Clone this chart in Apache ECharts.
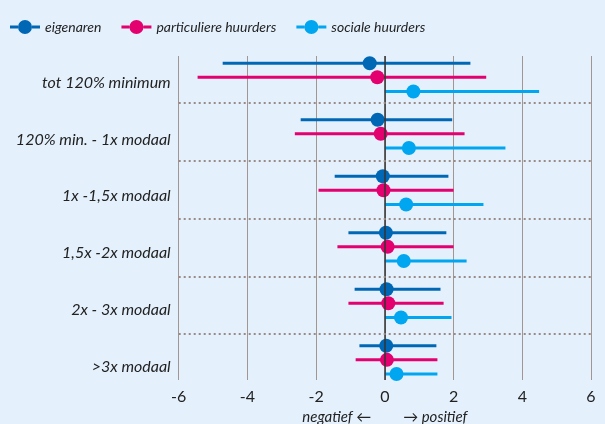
<!DOCTYPE html>
<html>
<head>
<meta charset="utf-8">
<script src="https://cdn.jsdelivr.net/npm/echarts@6/dist/echarts.min.js"></script>
<style>
  html, body { margin: 0; padding: 0; background: #e4f1fd; }
  #chart { width: 605px; height: 424px; }
</style>
</head>
<body>
<div id="chart"></div>
<script>
// categorieen (van boven naar beneden)
const groups = ['tot 120% minimum', '120% min. - 1x modaal', '1x -1,5x modaal', '1,5x -2x modaal', '2x - 3x modaal', '>3x modaal']
const seriesNames = ['eigenaren', 'particuliere huurders', 'sociale huurders']
// [laag, punt, hoog] per groep
const eigenaren = [[-4.72, -0.44, 2.49], [-2.45, -0.21, 1.96], [-1.46, -0.06, 1.85], [-1.06, 0.03, 1.79], [-0.88, 0.05, 1.62], [-0.74, 0.04, 1.50]]
const particuliere = [[-5.45, -0.22, 2.95], [-2.62, -0.12, 2.32], [-1.93, -0.04, 2.00], [-1.38, 0.08, 2.00], [-1.06, 0.10, 1.71], [-0.85, 0.06, 1.53]]
const sociale = [[0, 0.83, 4.49], [0, 0.70, 3.51], [0, 0.62, 2.87], [0, 0.55, 2.38], [0, 0.47, 1.94], [0, 0.34, 1.53]]
const rowOffsets = [-0.25, 0, 0.25]
const separators = [0.45, 1.47, 2.5, 3.53, 4.54]
const xTicks = [-6, -4, -2, 0, 2, 4, 6]

const colors = ['#0067b4', '#e3006f', '#00a6ef']
const font = 'Lato'
const iconPath = 'path://M0,5.5h8v3h-8z M22,5.5h8v3h-8z M8,7a7,7 0 1,0 14,0a7,7 0 1,0 -14,0z'

const chart = echarts.init(document.getElementById('chart'))

const renderBar = (params, api) => {
  const y = api.value(3)
  const lo = api.coord([api.value(0), y])
  const pt = api.coord([api.value(1), y])
  const hi = api.coord([api.value(2), y])
  const color = api.visual('color')
  return {
    type: 'group',
    children: [
      { type: 'line', shape: { x1: lo[0], y1: lo[1], x2: hi[0], y2: hi[1] }, style: { stroke: color, lineWidth: 3 } },
      { type: 'circle', shape: { cx: pt[0], cy: pt[1], r: 7 }, style: { fill: color } }
    ]
  }
}

const makeSeries = (name, values, i) => ({
  name: name,
  type: 'custom',
  xAxisIndex: 0,
  yAxisIndex: 0,
  z: 3,
  itemStyle: { color: colors[i] },
  renderItem: renderBar,
  encode: { x: [0, 1, 2], y: 3 },
  data: values.map((v, g) => [v[0], v[1], v[2], g + rowOffsets[i]])
})

chart.setOption({
  backgroundColor: '#e4f1fd',
  animation: false,
  textStyle: { fontFamily: font },
  legend: {
    left: 5,
    top: 15,
    itemWidth: 30,
    itemHeight: 14,
    itemGap: 20,
    textStyle: { fontFamily: font, fontStyle: 'italic', fontSize: 14, color: '#222' },
    data: seriesNames.map(n => ({ name: n, icon: iconPath }))
  },
  grid: [
    { left: 178.7, right: 14, top: 56, bottom: 44, outerBoundsMode: 'none', containLabel: false },
    { left: 178.7, right: 14, top: 54.5, height: 340.2, outerBoundsMode: 'none', containLabel: false }
  ],
  xAxis: [
    {
      type: 'value',
      gridIndex: 0,
      min: xTicks[0],
      max: xTicks[xTicks.length - 1],
      interval: 2,
      axisLine: { show: false },
      axisTick: { show: false },
      axisLabel: { fontFamily: font, fontSize: 16, color: '#222', margin: 9 },
      splitLine: { lineStyle: { color: '#a3958f', width: 1 } },
      name: '{n|negatief ←}{p|→ positief}',
      nameLocation: 'middle',
      nameGap: 30,
      nameTextStyle: {
        rich: {
          n: { fontFamily: font, fontStyle: 'italic', fontSize: 15, color: '#222', padding: [0, 16, 0, 0] },
          p: { fontFamily: font, fontStyle: 'italic', fontSize: 15, color: '#222', padding: [0, 0, 0, 16] }
        }
      }
    },
    { type: 'value', gridIndex: 1, show: false, min: -6, max: 6 }
  ],
  yAxis: [
    { type: 'value', gridIndex: 0, inverse: true, min: -0.377, max: 5.357, show: false },
    {
      type: 'category',
      gridIndex: 1,
      inverse: true,
      data: groups,
      axisLine: { show: false },
      axisTick: { show: false },
      splitLine: { show: false },
      axisLabel: { fontFamily: font, fontStyle: 'italic', fontSize: 16, color: '#222', margin: 8 }
    }
  ],
  series: [
    {
      type: 'line',
      xAxisIndex: 0,
      yAxisIndex: 0,
      data: [],
      z: 1,
      silent: true,
      markLine: {
        silent: true,
        symbol: ['none', 'none'],
        label: { show: false },
        data: [
          { xAxis: 0, lineStyle: { color: '#333', width: 1.5, type: 'solid' } },
          ...separators.map(v => ({ yAxis: v, lineStyle: { color: '#9a8b87', width: 2, type: [2, 3] } }))
        ]
      }
    },
    makeSeries(seriesNames[0], eigenaren, 0),
    makeSeries(seriesNames[1], particuliere, 1),
    makeSeries(seriesNames[2], sociale, 2)
  ]
})
</script>
</body>
</html>
